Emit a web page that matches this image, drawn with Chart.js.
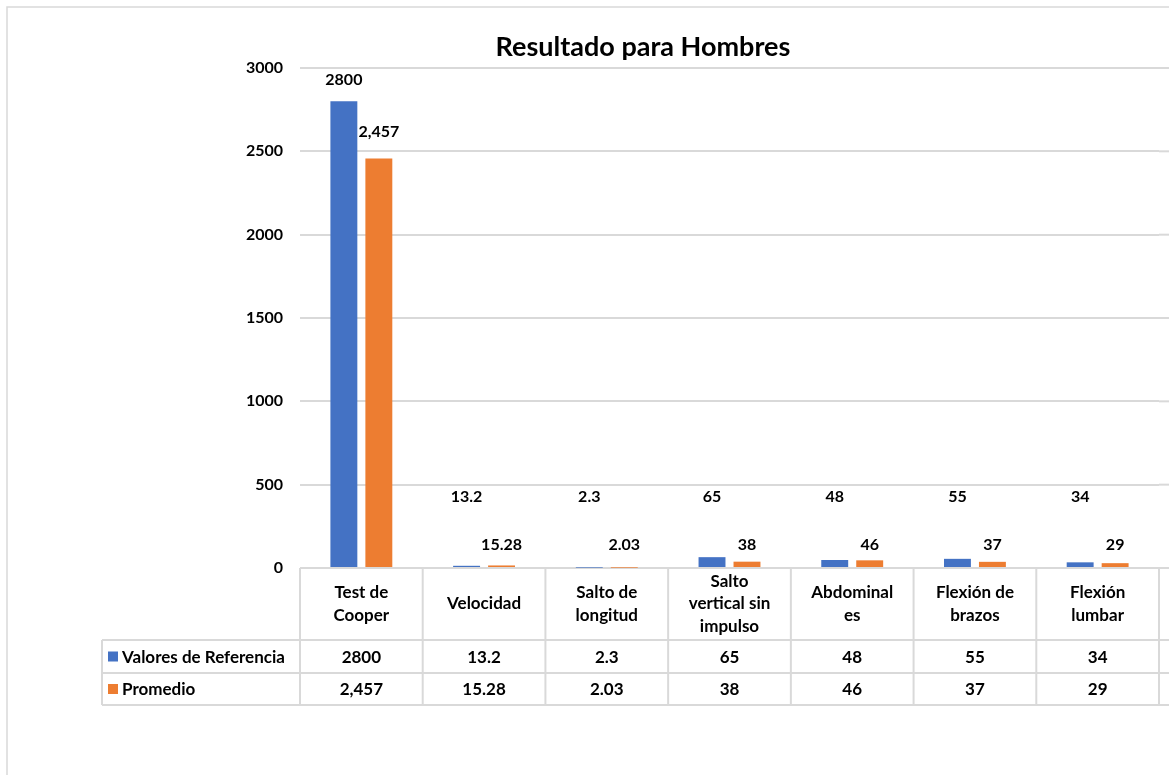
<!DOCTYPE html>
<html>
<head>
<meta charset="utf-8">
<script src="https://cdn.jsdelivr.net/npm/chart.js@4.4.1/dist/chart.umd.min.js"></script>
<style>
  html, body { margin: 0; padding: 0; background: #fff; overflow: hidden; }
  #wrap { position: relative; width: 1169px; height: 775px; }
</style>
</head>
<body>
<div id="wrap"><canvas id="myChart"></canvas></div>
<script>
// --- Chart data ---
const categories = [
    ['Test de', 'Cooper'],
    ['Velocidad'],
    ['Salto de', 'longitud'],
    ['Salto', 'vertical sin', 'impulso'],
    ['Abdominal', 'es'],
    ['Flexión de', 'brazos'],
    ['Flexión', 'lumbar']
];
const valoresReferencia = [2800, 13.2, 2.3, 65, 48, 55, 34];
const promedio = [2457, 15.28, 2.03, 38, 46, 37, 29];
const yTicks = [0, 500, 1000, 1500, 2000, 2500, 3000];

const BLUE = '#4472C4';
const ORANGE = '#ED7D31';
const GRID = '#d9d9d9';
const FONT = 'Lato, "Open Sans", sans-serif';

// Reference values shown as typed, averages with thousands separator
const fmtRef = v => String(v);
const fmtProm = v => v.toLocaleString('en-US');

// Title, data labels, data table and frame drawn on top of the chart
const tablePlugin = {
    id: 'tablePlugin',
    afterDraw(chart) {
        const { ctx, chartArea, scales } = chart;
        const W = chart.width, H = chart.height;
        const x = scales.x;
        const n = categories.length;
        const cw = (chartArea.right - chartArea.left) / n;

        ctx.save();

        // outer frame
        ctx.strokeStyle = GRID;
        ctx.lineWidth = 1.5;
        ctx.beginPath();
        ctx.moveTo(7, H);
        ctx.lineTo(7, 7);
        ctx.lineTo(W, 7);
        ctx.stroke();

        // gridlines run past the last category to the edge
        ctx.lineWidth = 2;
        yTicks.forEach(t => {
            const y = scales.y.getPixelForValue(t);
            ctx.beginPath();
            ctx.moveTo(chartArea.right, y);
            ctx.lineTo(W, y);
            ctx.stroke();
        });

        // title
        ctx.fillStyle = '#000';
        ctx.font = 'bold 27px ' + FONT;
        ctx.textAlign = 'center';
        ctx.textBaseline = 'middle';
        ctx.fillText('Resultado para Hombres', 643, 47);

        // data labels (small bars get their labels at a fixed height, as in the source)
        ctx.font = 'bold 16px ' + FONT;
        const refMeta = chart.getDatasetMeta(0);
        const promMeta = chart.getDatasetMeta(1);
        refMeta.data.forEach((el, i) => {
            const ly = el.y < 400 ? el.y - 21 : 497;
            ctx.fillText(fmtRef(valoresReferencia[i]), el.x, ly);
        });
        promMeta.data.forEach((el, i) => {
            const ly = el.y < 400 ? el.y - 27 : 545;
            ctx.fillText(fmtProm(promedio[i]), el.x, ly);
        });

        // data table
        const top = chartArea.bottom;
        const r1 = 640, r2 = 673, r3 = 705;
        const legendLeft = 102;
        ctx.strokeStyle = GRID;
        ctx.lineWidth = 2;
        [r1, r2, r3].forEach(y => {
            ctx.beginPath();
            ctx.moveTo(legendLeft, y);
            ctx.lineTo(W, y);
            ctx.stroke();
        });
        ctx.beginPath();
        ctx.moveTo(legendLeft, r1);
        ctx.lineTo(legendLeft, r3);
        ctx.stroke();
        for (let i = 0; i <= n; i++) {
            const bx = chartArea.left + i * cw;
            ctx.beginPath();
            ctx.moveTo(bx, top);
            ctx.lineTo(bx, r3);
            ctx.stroke();
        }

        ctx.fillStyle = '#000';
        ctx.font = 'bold 17px ' + FONT;
        categories.forEach((lines, i) => {
            const cx = x.getPixelForValue(i);
            const lh = 22.5;
            const start = (top + r1) / 2 - (lines.length - 1) * lh / 2;
            lines.forEach((ln, j) => ctx.fillText(ln, cx, start + j * lh));
            ctx.fillText(fmtRef(valoresReferencia[i]), cx, (r1 + r2) / 2 + 1);
            ctx.fillText(fmtProm(promedio[i]), cx, (r2 + r3) / 2 + 1);
        });

        // legend keys
        ctx.textAlign = 'left';
        ctx.fillStyle = BLUE;
        ctx.fillRect(108, (r1 + r2) / 2 - 5, 10, 10);
        ctx.fillStyle = ORANGE;
        ctx.fillRect(108, (r2 + r3) / 2 - 5, 10, 10);
        ctx.fillStyle = '#000';
        ctx.fillText('Valores de Referencia', 122, (r1 + r2) / 2 + 1);
        ctx.fillText('Promedio', 122, (r2 + r3) / 2 + 1);

        ctx.restore();
    }
};

const ctx = document.getElementById('myChart');

const myChart = new Chart(ctx, {
    type: 'bar',
    data: {
        labels: categories,
        datasets: [{
            label: 'Valores de Referencia',
            data: valoresReferencia,
            backgroundColor: BLUE,
            categoryPercentage: 0.57,
            barPercentage: 0.77
        }, {
            label: 'Promedio',
            data: promedio,
            backgroundColor: ORANGE,
            categoryPercentage: 0.57,
            barPercentage: 0.77
        }]
    },
    options: {
        responsive: true,
        maintainAspectRatio: false,
        animation: false,
        layout: {
            padding: { left: 0, right: 10, top: 68, bottom: 207 }
        },
        plugins: {
            legend: { display: false },
            title: { display: false },
            tooltip: { enabled: false }
        },
        scales: {
            x: { display: false },
            y: {
                min: 0,
                max: 3000,
                afterBuildTicks: scale => {
                    scale.ticks = yTicks.map(v => ({ value: v }));
                },
                afterFit: scale => { scale.width = 300; },
                border: { display: false },
                grid: { color: GRID, lineWidth: 2, drawTicks: false },
                ticks: {
                    color: '#000',
                    padding: 17,
                    font: { family: FONT, size: 16, weight: 'bold' },
                    callback: v => String(v)
                }
            }
        }
    },
    plugins: [tablePlugin]
});
</script>
</body>
</html>
